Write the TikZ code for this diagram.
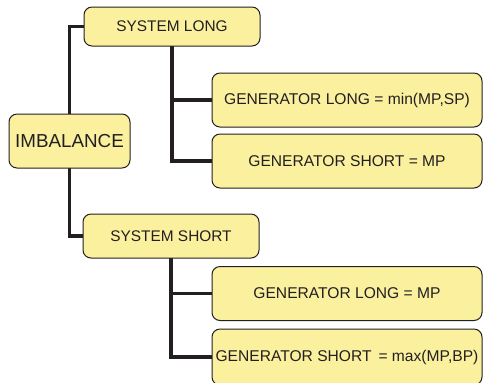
\documentclass[tikz,border=0pt]{standalone}
\usepackage{fontspec}
\setmainfont{Liberation Sans}
\usetikzlibrary{backgrounds}
\definecolor{boxfill}{RGB}{250,240,158}
\definecolor{inkgray}{RGB}{35,31,32}

\begin{document}
\begin{tikzpicture}[x=0.5pt,y=-0.5pt]
        %
        % `root' is the imbalance box, `branch' the system boxes,
        % `leaf' the generator boxes, `link' the thick connectors.
        \tikzstyle{box} = [draw=inkgray,fill=boxfill,line width=0.5pt,rounded corners=4pt,
                           inner sep=0pt,outer sep=0pt,text=inkgray]
        \tikzstyle{root} = [box,minimum width=60.5pt,minimum height=27pt,font=\fontsize{9.4}{11}\selectfont]
        \tikzstyle{branch} = [box,minimum width=88pt,font=\fontsize{7.7}{9}\selectfont]
        \tikzstyle{leaf} = [box,minimum width=135pt,minimum height=27pt,font=\fontsize{7.8}{9}\selectfont]
        \tikzstyle{link} = [draw=inkgray,line width=1.8pt]
        %
        \useasboundingbox (0,0) rectangle (483,382);
        %
        % Root
        \node[root] (imb) at (69.5,141) {IMBALANCE};
        %
        % System boxes
        \node[branch,minimum height=19.5pt] (syslong) at (172,26.5) {SYSTEM LONG};
        \node[branch,minimum height=22pt] (sysshort) at (171,236) {SYSTEM SHORT};
        %
        % Generator boxes, system long
        \node[leaf] (genlong1) at (347,100) {GENERATOR LONG = min(MP,SP)};
        \node[leaf] (genshort1) at (347,161) {GENERATOR SHORT = MP};
        %
        % Generator boxes, system short
        \node[leaf] (genlong2) at (347,293.5) {GENERATOR LONG = MP};
        \node[leaf,minimum height=28pt] (genshort2) at (347,357) {GENERATOR SHORT \,= max(MP,BP)};
        %
        % Connectors
        \begin{pgfonlayer}{background}
        \draw[link] (imb.north) |- (syslong.west);
        \draw[link] (imb.south) |- (sysshort.west);
        \draw[link] (syslong.south) |- (genlong1.west);
        \draw[link] (syslong.south) |- (genshort1.west);
        \draw[link] (sysshort.south) |- (genlong2.west);
        \draw[link] (sysshort.south) |- (genshort2.west);
        \end{pgfonlayer}
        %
\end{tikzpicture}
\end{document}
